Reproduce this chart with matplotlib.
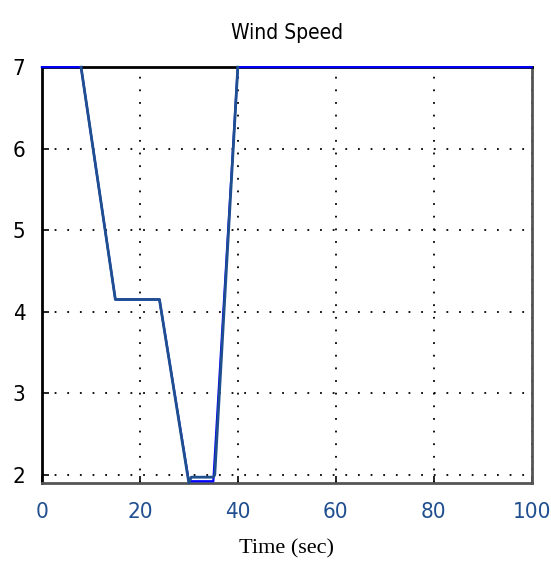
import numpy as np
import matplotlib
matplotlib.use('Agg')
from matplotlib import pylab as plt
from matplotlib import rcParams
rcParams['font.family'] = ['DejaVu Sans']
rcParams['font.stretch'] = 'condensed'

# wind speed profile
t_ref = [0, 8, 15, 24, 30, 35, 40, 100]
v_ref = [7.0, 7.0, 4.15, 4.15, 1.92, 1.92, 7.0, 7.0]
t_act = [8, 15, 24, 30, 30.5, 35, 35.3, 40]
v_act = [7.0, 4.15, 4.15, 1.9, 1.97, 1.97, 2.0, 7.0]

x_ticks = [0, 20, 40, 60, 80, 100]
y_ticks = [2, 3, 4, 5, 6, 7]

fig = plt.figure(figsize=(5.51, 5.79), dpi=100)
ax = fig.add_axes([0.076, 0.166, 0.889, 0.718])

ax.plot(t_ref, v_ref, color='#0000ff', lw=1.6, zorder=3, clip_on=False)
ax.plot(t_act, v_act, color='#1f4f8f', lw=2.0, zorder=4, clip_on=False)

ax.set_xlim(0, 100)
ax.set_ylim(1.9, 7.0)
ax.set_xticks(x_ticks)
ax.set_yticks(y_ticks)
ax.grid(True, color='black', linestyle=(0, (1, 6)), linewidth=1.3)
ax.tick_params(direction='in', length=5, width=1.2)
ax.tick_params(axis='x', colors='black', labelcolor='#1f4f8f', labelsize=16, pad=14)
ax.tick_params(axis='y', labelsize=16, pad=12)

for s in ['left', 'top']:
    ax.spines[s].set_color('black')
    ax.spines[s].set_linewidth(2)
for s in ['bottom', 'right']:
    ax.spines[s].set_color('#555555')
    ax.spines[s].set_linewidth(2)

ax.set_title('Wind Speed', fontsize=15, pad=20)
ax.set_xlabel('Time (sec)', fontsize=16, family=['Liberation Serif', 'DejaVu Serif'],
              stretch='condensed', labelpad=12)

plt.savefig('out.png', dpi=100)
